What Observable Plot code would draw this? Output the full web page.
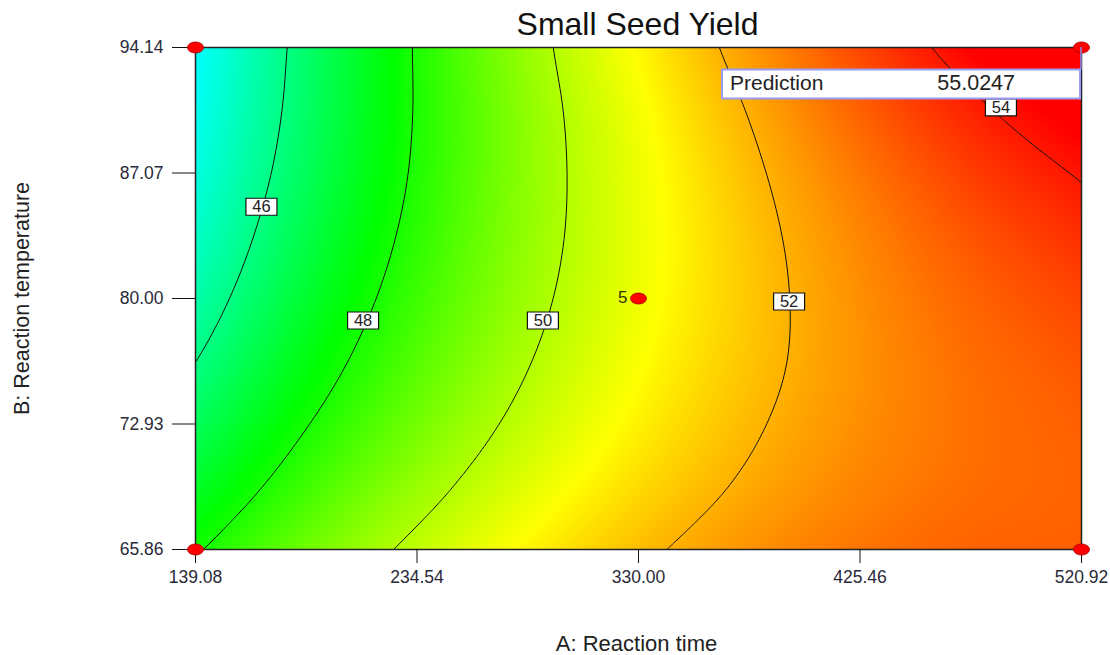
<!DOCTYPE html>
<html><head><meta charset="utf-8">
<script src="https://cdn.jsdelivr.net/npm/d3@7"></script>
<script src="https://cdn.jsdelivr.net/npm/@observablehq/plot@0.6"></script>
<style>body{margin:0;background:#fff;} svg{display:block;}</style>
</head><body><div id="chart"></div>
<script>
// ---- data ----
const titleText = "Small Seed Yield";
const xTitle = "A: Reaction time";
const yTitle = "B: Reaction temperature";
const xTicks = [139.08, 234.54, 330.00, 425.46, 520.92];
const yTicks = [65.86, 72.93, 80.00, 87.07, 94.14];
const gridX = [139.08, 186.81, 234.54, 282.27, 330.00, 377.73, 425.46, 473.19, 520.92];
const gridY = [65.86, 69.395, 72.93, 76.465, 80.00, 83.535, 87.07, 90.605, 94.14];
// Small seed yield, one row per gridY value (bottom to top), one column per gridX value
const yieldGrid = [
  [47.91, 49.15, 50.21, 51.11, 51.84, 52.40, 52.79, 53.02, 53.07],
  [47.19, 48.51, 49.66, 50.65, 51.46, 52.11, 52.59, 52.89, 53.03],
  [46.55, 47.96, 49.19, 50.26, 51.16, 51.90, 52.46, 52.85, 53.08],
  [45.99, 47.48, 48.81, 49.96, 50.95, 51.76, 52.41, 52.89, 53.20],
  [45.51, 47.09, 48.50, 49.74, 50.81, 51.71, 52.45, 53.01, 53.41],
  [45.11, 46.78, 48.27, 49.60, 50.75, 51.74, 52.56, 53.21, 53.70],
  [44.79, 46.54, 48.12, 49.54, 50.78, 51.85, 52.76, 53.50, 54.06],
  [44.56, 46.39, 48.06, 49.56, 50.88, 52.04, 53.04, 53.86, 54.51],
  [44.40, 46.32, 48.07, 49.66, 51.07, 52.32, 53.39, 54.30, 55.02]
];
const contourLevels = [46, 48, 50, 52, 54];
const contourLabelX = [167.5, 211.3, 288.8, 394.9, 486.2];
const contourLabelY = [85.17, 78.76, 78.76, 79.83, 90.77];
const designX = [139.08, 139.08, 520.92, 520.92, 330.00];
const designY = [65.86, 94.14, 65.86, 94.14, 80.00];
const designLabel = ["", "", "", "", "5"];
const colorStops = [41.1, 44.4, 47.7, 51.0, 54.3];
const colorRange = ["#0000ff", "#00ffff", "#00ff00", "#ffff00", "#ff0000"];
const predictionLabel = "Prediction";
const predictionValue = "55.0247";
const predictionX = 520.92;
const predictionY = 94.14;

// ---- build table ----
const cells = [];
gridY.forEach((yv, i) => gridX.forEach((xv, j) => cells.push({x: xv, y: yv, v: yieldGrid[i][j]})));
const design = designX.map((d, i) => ({x: d, y: designY[i], label: designLabel[i]}));
const labels = contourLevels.map((d, i) => ({x: contourLabelX[i], y: contourLabelY[i], text: String(d)}));

// smooth (Catmull-Rom bicubic) rendering of the regular sample grid
function bicubicGrid(nx, ny) {
  return (index, w, h, X, Y, V) => {
    const gx = d3.range(nx).map(j => X[index[j]]);
    const gy = d3.range(ny).map(i => Y[index[i * nx]]);
    const g = (i, j) => {
      if (j < 0) return 2 * g(i, 0) - g(i, 1);
      if (j > nx - 1) return 2 * g(i, nx - 1) - g(i, nx - 2);
      if (i < 0) return 2 * g(0, j) - g(1, j);
      if (i > ny - 1) return 2 * g(ny - 1, j) - g(ny - 2, j);
      return V[index[i * nx + j]];
    };
    const cr = (p0, p1, p2, p3, t) =>
      0.5 * (2 * p1 + (p2 - p0) * t + (2 * p0 - 5 * p1 + 4 * p2 - p3) * t * t + (3 * p1 - p0 - 3 * p2 + p3) * t * t * t);
    const out = new Float64Array(w * h);
    for (let r = 0; r < h; ++r) {
      let v = (r + 0.5 - gy[0]) / (gy[ny - 1] - gy[0]) * (ny - 1);
      v = Math.max(0, Math.min(ny - 1, v));
      const i0 = Math.min(Math.floor(v), ny - 2), tv = v - i0;
      for (let c = 0; c < w; ++c) {
        let u = (c + 0.5 - gx[0]) / (gx[nx - 1] - gx[0]) * (nx - 1);
        u = Math.max(0, Math.min(nx - 1, u));
        const j0 = Math.min(Math.floor(u), nx - 2), tu = u - j0;
        const rows = [-1, 0, 1, 2].map(di => cr(g(i0 + di, j0 - 1), g(i0 + di, j0), g(i0 + di, j0 + 1), g(i0 + di, j0 + 2), tu));
        out[r * w + c] = cr(rows[0], rows[1], rows[2], rows[3], tv);
      }
    }
    return out;
  };
}
const smoothGrid = bicubicGrid(gridX.length, gridY.length);

function ellipseSymbol(rx, ry) {
  const k = 0.5523;
  return {draw(ctx) {
    ctx.moveTo(rx, 0);
    ctx.bezierCurveTo(rx, ry * k, rx * k, ry, 0, ry);
    ctx.bezierCurveTo(-rx * k, ry, -rx, ry * k, -rx, 0);
    ctx.bezierCurveTo(-rx, -ry * k, -rx * k, -ry, 0, -ry);
    ctx.bezierCurveTo(rx * k, -ry, rx, -ry * k, rx, 0);
    ctx.closePath();
  }};
}
const boxSymbol = {draw(ctx) { ctx.rect(-15.5, -8.5, 31, 17); }};
const font = "'Liberation Sans', Arial, sans-serif";
const extent = {x1: 139.08, x2: 520.92, y1: 65.86, y2: 94.14};

const plot = Plot.plot({
  width: 1110, height: 655,
  marginLeft: 195, marginRight: 29, marginTop: 47, marginBottom: 106,
  x: {domain: [139.08, 520.92]},
  y: {domain: [65.86, 94.14]},
  color: {type: "linear", domain: colorStops, range: colorRange, interpolate: "rgb", clamp: true},
  style: {fontFamily: font, fontSize: "17px", color: "#111", background: "#fff"},
  marks: [
    Plot.raster(cells, {x: "x", y: "y", fill: "v", interpolate: smoothGrid, pixelSize: 1, ...extent, imageRendering: "auto"}),
    Plot.contour(cells, {x: "x", y: "y", value: "v", interpolate: smoothGrid, thresholds: contourLevels,
      fill: "none", stroke: "#111", strokeWidth: 1, pixelSize: 1, ...extent}),
    Plot.frame({stroke: "#222", strokeWidth: 1.5}),
    Plot.axisX({ticks: xTicks, tickFormat: d => d.toFixed(2), tickSize: 14, tickPadding: 7,
      fontSize: 17.5, fill: "#2a2a3a", label: null}),
    Plot.axisY({ticks: yTicks, tickFormat: d => d.toFixed(2), tickSize: 23, tickPadding: 9,
      fontSize: 17.5, fill: "#2a2a3a", label: null}),
    Plot.dot(labels, {x: "x", y: "y", symbol: boxSymbol, fill: "white", stroke: "#111", strokeWidth: 1.2}),
    Plot.text(labels, {x: "x", y: "y", text: "text", fontSize: 16.5, fill: "#222"}),
    Plot.dot(design, {x: "x", y: "y", symbol: ellipseSymbol(8, 5.5), fill: "#ff0000", stroke: "#a00000", strokeWidth: 0.8}),
    Plot.text(design, {x: "x", y: "y", text: "label", textAnchor: "end", dx: -11, dy: -1, fontSize: 17, fill: "#333300"}),
    Plot.text([titleText], {frameAnchor: "top", lineAnchor: "middle", dy: -23, dx: -1, fontSize: 32, fill: "#111"}),
    Plot.text([xTitle], {frameAnchor: "bottom", lineAnchor: "middle", textAnchor: "middle", dy: 94, dx: -2, fontSize: 22, fill: "#222"}),
    Plot.text([yTitle], {frameAnchor: "left", lineAnchor: "middle", textAnchor: "middle", dx: -173, rotate: -90, fontSize: 21.5, fill: "#222"})
  ]
});

// prediction flag anchored on the predicted design point
const svg = d3.select(plot);
const px = plot.scale("x").apply(predictionX);
const py = plot.scale("y").apply(predictionY);
const g = svg.append("g").attr("font-family", font);
g.append("line").attr("x1", px).attr("x2", px).attr("y1", py).attr("y2", py + 22.5)
  .attr("stroke", "#8c8cf0").attr("stroke-width", 1.5);
g.append("rect").attr("x", px - 359).attr("y", py + 22.5).attr("width", 358).attr("height", 29)
  .attr("fill", "white").attr("stroke", "#9b9bf5").attr("stroke-width", 2);
g.append("text").attr("x", px - 351).attr("y", py + 43).attr("text-anchor", "start").attr("font-size", 21).attr("fill", "#222")
  .text(predictionLabel);
g.append("text").attr("x", px - 66).attr("y", py + 43).attr("text-anchor", "end").attr("font-size", 21.5)
  .attr("fill", "#222").text(predictionValue);

document.getElementById("chart").appendChild(plot);
</script>
</body></html>
